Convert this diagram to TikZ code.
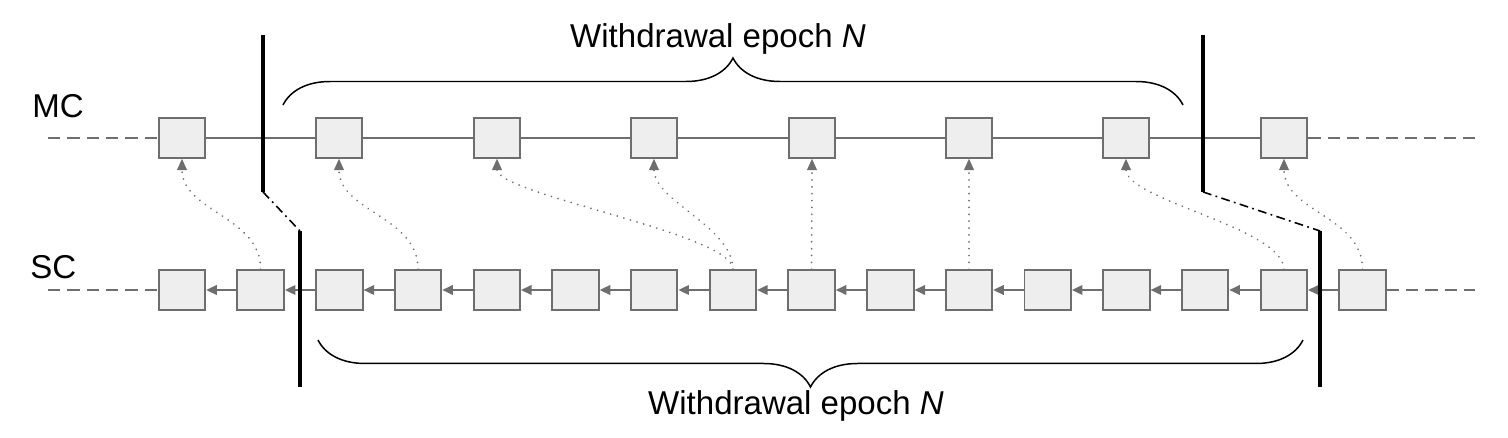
\documentclass[tikz,border=0pt]{standalone}
\usepackage{fontspec}
\setmainfont{Liberation Sans}
\usetikzlibrary{arrows.meta,decorations.pathreplacing}
\definecolor{blockgray}{HTML}{EEEEEE}
\definecolor{linegray}{HTML}{6E6E6E}

\begin{document}
\begin{tikzpicture}[x=0.02cm, y=-0.02cm,
    block/.style={draw=linegray, fill=blockgray, line width=1.1pt, minimum width=0.93cm, minimum height=0.79cm, inner sep=0pt},
    link/.style={draw=linegray, line width=0.9pt},
    back/.style={link, -{Triangle[length=6pt,width=5.5pt]}},
    cert/.style={draw=linegray, line width=1.1pt, line cap=round, dash pattern=on 0.01pt off 3.9pt, -{Triangle[length=6.5pt,width=5.5pt]}},
    epochbar/.style={line width=2.4pt},
    handover/.style={line width=0.9pt, dash pattern=on 5pt off 2.5pt on 1pt off 2.5pt},
    epochbrace/.style={line width=0.85pt, decorate, decoration={brace, amplitude=0.94cm}},
    chaintext/.style={font=\fontsize{18.8}{22}\selectfont, inner sep=0pt}]
        \useasboundingbox (0,0) rectangle (1508,438);

        % Chain names
        \node[chaintext, anchor=base west] (mcname) at (32,118) {MC};
        \node[chaintext, anchor=base west] (scname) at (30,279) {SC};

        % Blocks of the main chain and of the side chain
        \foreach \i/\x in {1/182, 2/339, 3/497, 4/654, 5/812, 6/969, 7/1126, 8/1284}
            \node[block] (mc\i) at (\x,138) {};
        \foreach \i in {1,...,16}
            \node[block] (sc\i) at ({182+78.7*(\i-1)},290) {};

        % Chain links
        \coordinate (mcin) at (48,138);
        \coordinate (mcout) at (1475,138);
        \coordinate (scin) at (48,290);
        \coordinate (scout) at (1475,290);
        \draw[link, dash pattern=on 7pt off 4pt] (mcin) -- (mc1);
        \draw[link, dash pattern=on 7pt off 4pt] (mc8) -- (mcout);
        \draw[link, dash pattern=on 7pt off 4pt] (scin) -- (sc1);
        \draw[link, dash pattern=on 7pt off 4pt] (sc16) -- (scout);
        \foreach \i in {1,...,7} {
            \pgfmathtruncatemacro{\j}{\i+1}
            \draw[link] (mc\i) -- (mc\j);
        }
        \foreach \i in {1,...,15} {
            \pgfmathtruncatemacro{\j}{\i+1}
            \draw[back] (sc\j) -- (sc\i);
        }

        % Side chain references into the main chain
        \foreach \s/\m/\l in {2/1/1, 4/2/1, 8/3/0.35, 8/4/0.8, 9/5/1, 11/6/1, 15/7/0.55, 16/8/1}
            \draw[cert] (sc\s.north) to[out=90, in=-90, looseness=\l] (mc\m.south);

        % Epoch boundaries
        \coordinate (mcstarttop) at (263,35);
        \coordinate (mcstart) at (263,192);
        \coordinate (scstart) at (300,231);
        \coordinate (scstartbot) at (300,387);
        \coordinate (mcendtop) at (1203,35);
        \coordinate (mcend) at (1203,192);
        \coordinate (scend) at (1320,231);
        \coordinate (scendbot) at (1320,387);
        \draw[epochbar] (mcstarttop) -- (mcstart);
        \draw[epochbar] (scstart) -- (scstartbot);
        \draw[epochbar] (mcendtop) -- (mcend);
        \draw[epochbar] (scend) -- (scendbot);
        \draw[handover] (mcstart) -- (scstart);
        \draw[handover] (mcend) -- (scend);

        % Withdrawal epochs
        \draw[epochbrace] (283,105) -- (1183,105);
        \draw[epochbrace] (1303,340) -- (318,340);
        \node[chaintext, anchor=base] (mcepoch) at (718,48) {Withdrawal epoch \textit{N}};
        \node[chaintext, anchor=base] (scepoch) at (796,415) {Withdrawal epoch \textit{N}};

    \end{tikzpicture}
\end{document}
